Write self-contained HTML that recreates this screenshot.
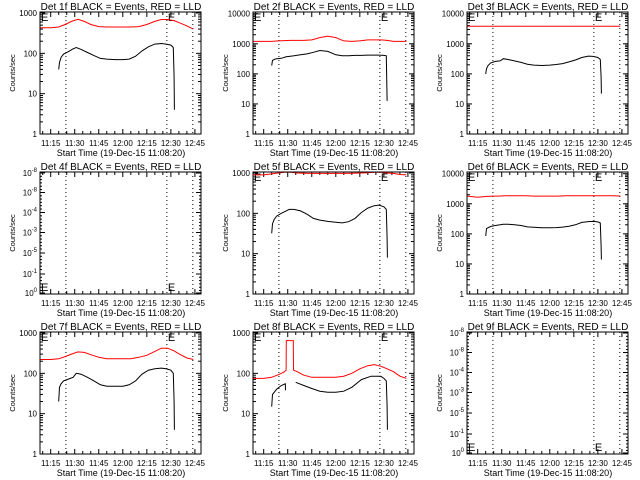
<!DOCTYPE html>
<html><head><meta charset="utf-8"><style>
html,body{margin:0;padding:0;background:#fff;}
svg{display:block;font-family:"Liberation Sans",sans-serif;}
</style></head><body>
<svg id="c" width="640" height="480" viewBox="0 0 640 480"></svg>
<script>
// time in minutes after 11:00
const tBlack = [20,20.5,21.5,23,26,29,31,34,38,42,46,50,55,60,64,68,72,76,80,84,87,90,91.5,92,92.2];
const tRed = [8.5,15,20,24,28,32,36,40,45,50,55,60,65,70,75,80,84,88,92,96,100,104];
const black1 = [40,60,80,95,110,130,140,125,105,88,75,72,70,70,72,85,115,145,170,175,170,160,140,25,4];
const red1 = [430,430,450,520,620,700,620,520,460,450,450,450,450,460,520,620,690,690,650,560,480,400];
const black2 = [190,280,300,320,330,370,380,400,430,460,520,600,560,430,400,400,410,410,420,420,420,410,400,13,13];
const red2 = [1200,1200,1200,1250,1280,1300,1300,1300,1350,1600,1800,1600,1250,1200,1250,1350,1350,1350,1300,1200,1200,1200];
const black3 = [100,150,190,230,260,270,320,300,270,240,210,195,190,195,205,220,250,290,350,390,380,350,300,80,22];
const red3 = [3800,3800,3800,3800,3800,3800,3800,3800,3800,3800,3800,3800,3800,3800,3800,3800,3800,3800,3800,3800,3800,3800];
const black5 = [32,55,70,85,100,115,125,125,115,95,75,68,63,60,58,62,75,105,135,155,160,145,125,25,8];
const red5 = [900,900,950,1000,1050,1050,1000,990,980,980,980,980,980,990,1000,1010,1050,1050,1000,980,920,900];
const black6 = [85,150,160,175,190,200,210,210,200,190,170,165,160,160,162,168,180,200,240,255,260,250,230,40,14];
const red6 = [1800,1650,1750,1800,1800,1850,1850,1850,1850,1800,1800,1800,1800,1850,1850,1850,1850,1850,1850,1850,1850,1800];
const black7 = [20,45,55,65,72,80,100,95,80,65,52,48,48,48,52,65,95,120,130,135,130,120,100,20,4];
const red7 = [220,220,230,260,300,340,330,290,250,230,230,230,230,250,280,350,420,420,360,290,240,220];
const tBlack8 = [20,20.5,23,26,28.5,28.6,30,35,40,45,50,55,60,65,70,76,82,88,90,91.5,92,92.2];
const black8 = [15,30,40,50,55,38,null,60,50,42,36,34,34,36,45,70,85,85,75,65,15,4];
const tRed8 = [8.5,15,20,25,28,29,29.1,33.5,33.6,36,40,45,50,55,60,65,70,75,80,84,88,92,96,100,104];
const red8 = [75,75,80,95,110,120,650,650,120,110,90,80,80,80,80,85,100,130,155,165,150,130,110,85,75];
const xTickLabels = ["11:15","11:30","11:45","12:00","12:15","12:30","12:45"];
const xTickTimes = [15,30,45,60,75,90,105];
const markerTimes = [24.5,87.5,103.7];
const yLabels3 = ["1","10","100","1000"];
const yLabels4 = ["1","10","100","1000","10000"];

const NS="http://www.w3.org/2000/svg";
const svg=document.getElementById('c');
function mk(tag,attrs,parent){const e=document.createElementNS(NS,tag);for(const k in attrs)e.setAttribute(k,attrs[k]);(parent||svg).appendChild(e);return e;}

const TMIN=8.33,TMAX=108.8,L=40,R=201,T=12,B=134;
const panels=[
 {n:1,ymax:1060,black:black1,red:red1,tb:tBlack,tr:tRed,lab:yLabels3},
 {n:2,ymax:11400,black:black2,red:red2,tb:tBlack,tr:tRed,lab:yLabels4},
 {n:3,ymax:11400,black:black3,red:red3,tb:tBlack,tr:tRed,lab:yLabels4},
 {n:4,empty:true},
 {n:5,ymax:1060,black:black5,red:red5,tb:tBlack,tr:tRed,lab:yLabels3},
 {n:6,ymax:11400,black:black6,red:red6,tb:tBlack,tr:tRed,lab:yLabels4},
 {n:7,ymax:1060,black:black7,red:red7,tb:tBlack,tr:tRed,lab:yLabels3},
 {n:8,ymax:1060,black:black8,red:red8,tb:tBlack8,tr:tRed8,lab:yLabels3},
 {n:9,empty:true}
];
panels.forEach((p,i)=>{
  const ox=Math.round((i%3)*213.33), oy=Math.floor(i/3)*160;
  const g=mk('g',{transform:`translate(${ox},${oy})`});
  
  
  const xs=t=>L+(t-TMIN)/(TMAX-TMIN)*(R-L);
  const ys=v=>B-Math.log10(v)/Math.log10(p.ymax||1e9)*(B-T);
  const title=mk('text',{x:121,y:10,'font-size':10,'text-anchor':'middle',fill:'#000'},g);
  title.textContent=`Det ${p.n}f BLACK = Events, RED = LLD`;
  
  
  for(let t=10;t<=108;t+=5){const x=xs(t);const maj=t%15==0;const h=maj?5:3;
    mk('line',{x1:x,y1:B,x2:x,y2:B-h,stroke:'#000','stroke-width':1},g);
    mk('line',{x1:x,y1:T,x2:x,y2:T+h,stroke:'#000','stroke-width':1},g);}
  xTickLabels.forEach((s,k)=>{const tx=mk('text',{x:xs(xTickTimes[k]),y:146,'font-size':8,'text-anchor':'middle'},g);tx.textContent=s;
    
    });
  const xt=mk('text',{x:121,y:156,'font-size':9,'text-anchor':'middle'},g);
  xt.textContent='Start Time (19-Dec-15 11:08:20)';
  
  
  const yt=mk('text',{x:0,y:0,'font-size':7.5,'text-anchor':'middle',transform:'translate(15,73) rotate(-90)'},g);
  yt.textContent='Counts/sec';
  
  
  if(!p.empty){
    const dec=Math.ceil(Math.log10(p.ymax));
    for(let d=0;d<dec;d++){for(let m=1;m<10;m++){const v=m*Math.pow(10,d);if(v>p.ymax)break;const y=ys(v);const h=m==1?5:3;
      mk('line',{x1:L,y1:y,x2:L+h,y2:y,stroke:'#000'},g);mk('line',{x1:R,y1:y,x2:R-h,y2:y,stroke:'#000'},g);}}
    p.lab.forEach((s,k)=>{const tx=mk('text',{x:L-3,y:ys(Math.pow(10,k))+3,'font-size':8,'text-anchor':'end'},g);tx.textContent=s;
      
      });
  } else {
    const pos=[13,32.5,52.5,72.5,93,114,133];const ex=["-8","-8","-4","-3","-5","-1","0"];
    pos.forEach((y,k)=>{mk('line',{x1:L,y1:y,x2:L+5,y2:y,stroke:'#000'},g);mk('line',{x1:R,y1:y,x2:R-5,y2:y,stroke:'#000'},g);
      for(let m=1;m<6;m++){const yy=y+m*3.3;if(yy<B){mk('line',{x1:L,y1:yy,x2:L+2,y2:yy,stroke:'#000'},g);mk('line',{x1:R,y1:yy,x2:R-2,y2:yy,stroke:'#000'},g);}}
      const tx=mk('text',{x:L-3,y:y+3,'font-size':8,'text-anchor':'end'},g);
      
      
      tx.appendChild(document.createTextNode('10'));
      const sp=mk('tspan',{dy:-4,'font-size':6},tx);sp.textContent=ex[k];});
  }
  markerTimes.forEach(t=>{const l=mk('line',{x1:xs(t),y1:T,x2:xs(t),y2:B,stroke:'#000','stroke-dasharray':'1,3'},g);
    
    });
  const ey=p.empty?131:21;
  [L+1,xs(markerTimes[1])+1].forEach(x=>{const e=mk('text',{x:x,y:ey,'font-size':11},g);e.textContent='E';
    
    });
  if(!p.empty){
    const line=(ts,vs,col,name)=>{let segs=[],cur=[];
      ts.forEach((t,k)=>{const v=vs[k];if(v==null){if(cur.length)segs.push(cur);cur=[];}else cur.push(xs(t).toFixed(1)+','+Math.max(T,ys(v)).toFixed(1));});
      if(cur.length)segs.push(cur);
      segs.forEach(s=>{const pl=mk('polyline',{points:s.join(' '),fill:'none',stroke:col,'stroke-width':1},g);
        
        });};
    line(p.tr,p.red,'#ff0000','lld-series');
    line(p.tb,p.black,'#000','events-series');
  }
  const box=mk('rect',{x:L,y:T,width:R-L,height:B-T,fill:'none',stroke:'#000','stroke-width':1},g);
  
  
});
</script>
</body></html>
